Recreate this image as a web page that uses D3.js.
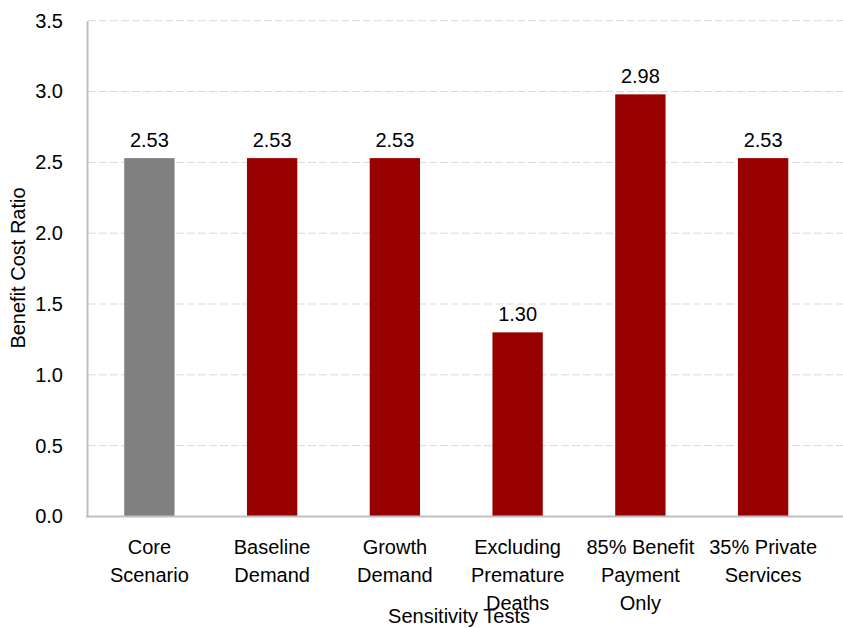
<!DOCTYPE html>
<html>
<head>
<meta charset="utf-8">
<script src="https://cdn.jsdelivr.net/npm/d3@7"></script>
<style>
  html, body { margin: 0; padding: 0; background: #fff; }
  svg { display: block; font-family: "Liberation Sans", Arial, sans-serif; }
</style>
</head>
<body>
<svg id="chart" width="843" height="628"></svg>
<script>
// Sensitivity test results
const categories = [
  ["Core", "Scenario"],
  ["Baseline", "Demand"],
  ["Growth", "Demand"],
  ["Excluding", "Premature", "Deaths"],
  ["85% Benefit", "Payment", "Only"],
  ["35% Private", "Services"]
];
const ratios = [2.53, 2.53, 2.53, 1.30, 2.98, 2.53];
const barColors = ["#808080", "#990000", "#990000", "#990000", "#990000", "#990000"];
const yTicks = [0, 0.5, 1.0, 1.5, 2.0, 2.5, 3.0, 3.5];

const svg = d3.select("#chart");
const W = 843;
const plotLeft = 88, plotRight = 824.5, plotTop = 20.7, plotBottom = 516.5;

const x = d3.scaleBand()
  .domain(d3.range(categories.length))
  .range([plotLeft, plotRight])
  .paddingInner(0.59)
  .paddingOuter(0.295);

const y = d3.scaleLinear().domain([0, 3.5]).range([plotBottom, plotTop]);

// Horizontal dashed gridlines
svg.append("g")
  .selectAll("line")
  .data(yTicks.filter(d => d > 0))
  .join("line")
  .attr("x1", plotLeft).attr("x2", W)
  .attr("y1", d => y(d)).attr("y2", d => y(d))
  .attr("stroke", "#d9d9d9")
  .attr("stroke-width", 1)
  .attr("stroke-dasharray", "8,3");

// Y axis
const yAxis = d3.axisLeft(y).tickValues(yTicks).tickFormat(d3.format(".1f")).tickSize(0).tickPadding(24);
const gy = svg.append("g").attr("transform", `translate(${plotLeft - 1},0)`).call(yAxis);
gy.select(".domain").attr("stroke", "#bfbfbf").attr("stroke-width", 2);
gy.selectAll("text").attr("font-size", 20).attr("fill", "#000")
  .attr("font-family", "Liberation Sans, Arial, sans-serif");

// Bars
svg.append("g")
  .selectAll("rect")
  .data(ratios)
  .join("rect")
  .attr("x", (d, i) => x(i))
  .attr("width", x.bandwidth())
  .attr("y", d => y(d))
  .attr("height", d => y(0) - y(d))
  .attr("fill", (d, i) => barColors[i]);

// Value labels
svg.append("g")
  .selectAll("text")
  .data(ratios)
  .join("text")
  .attr("x", (d, i) => x(i) + x.bandwidth() / 2)
  .attr("y", d => y(d) - 11.5)
  .attr("text-anchor", "middle")
  .attr("font-size", 20)
  .attr("fill", "#000")
  .text(d => d.toFixed(2));

// X axis line
svg.append("line")
  .attr("x1", plotLeft - 2).attr("x2", W)
  .attr("y1", plotBottom).attr("y2", plotBottom)
  .attr("stroke", "#bfbfbf").attr("stroke-width", 2);

// Category labels (multi-line)
const cat = svg.append("g")
  .selectAll("text")
  .data(categories)
  .join("text")
  .attr("text-anchor", "middle")
  .attr("font-size", 20)
  .attr("fill", "#000");
cat.each(function(lines, i) {
  const t = d3.select(this);
  lines.forEach((ln, k) => {
    t.append("tspan")
      .attr("x", x(i) + x.bandwidth() / 2)
      .attr("y", 554 + k * 28)
      .text(ln);
  });
});

// Axis titles
svg.append("text")
  .attr("x", 459).attr("y", 623)
  .attr("text-anchor", "middle")
  .attr("font-size", 20)
  .attr("fill", "#000")
  .text("Sensitivity Tests");

svg.append("text")
  .attr("transform", "translate(25,268) rotate(-90)")
  .attr("text-anchor", "middle")
  .attr("font-size", 20)
  .attr("fill", "#000")
  .text("Benefit Cost Ratio");
</script>
</body>
</html>
